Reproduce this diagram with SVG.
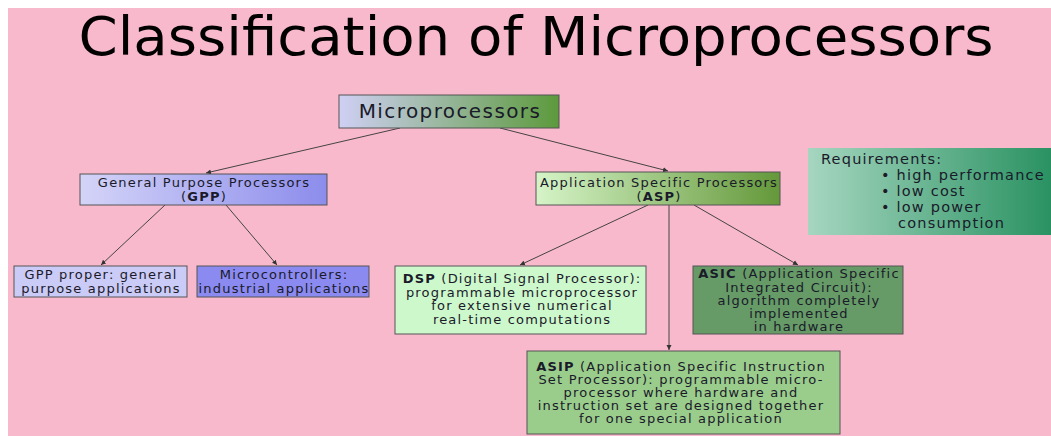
<svg xmlns="http://www.w3.org/2000/svg" width="1051" height="436" viewBox="0 0 1051 436">
<defs>
<linearGradient id="gMicro" x1="0" y1="0" x2="1" y2="0"><stop offset="0" stop-color="#cfd0f4"/><stop offset="1" stop-color="#5c9a3c"/></linearGradient>
<linearGradient id="gGPP" x1="0" y1="0" x2="1" y2="0"><stop offset="0" stop-color="#d4d4f8"/><stop offset="1" stop-color="#8c8cec"/></linearGradient>
<linearGradient id="gASP" x1="0" y1="0" x2="1" y2="0"><stop offset="0" stop-color="#d6f4c8"/><stop offset="1" stop-color="#64983a"/></linearGradient>
<linearGradient id="gReq" x1="0" y1="0" x2="1" y2="0"><stop offset="0" stop-color="#a6d6c0"/><stop offset="1" stop-color="#2a9262"/></linearGradient>
<marker id="arr" markerWidth="6" markerHeight="6" refX="5" refY="3" orient="auto" markerUnits="userSpaceOnUse"><path d="M0,0.5 L5,3 L0,5.5 z" fill="#333"/></marker>
<style>
.box{stroke:#555;stroke-width:1}
.t{font-family:"DejaVu Sans",Verdana,sans-serif;font-size:13px;letter-spacing:1.2px;fill:#1a1a2a;text-anchor:middle}
.r{font-size:14.5px;letter-spacing:1.2px;text-anchor:start}
.b{font-weight:bold}
.c{stroke:#444;stroke-width:1;fill:none;marker-end:url(#arr)}
</style>
</defs>
<rect x="0" y="0" width="1051" height="436" fill="#ffffff"/>
<rect x="8" y="8" width="1043" height="428" fill="#f9b9cc"/>
<text x="536" y="55" font-family="'DejaVu Sans Condensed','DejaVu Sans',sans-serif" font-size="54" text-anchor="middle" textLength="915" lengthAdjust="spacingAndGlyphs" fill="#000">Classification of Microprocessors</text>

<g id="connectors">
<line class="c" x1="400" y1="128" x2="206" y2="173"/>
<line class="c" x1="500" y1="128" x2="668" y2="171"/>
<line class="c" x1="165" y1="205" x2="101" y2="265"/>
<line class="c" x1="226" y1="205" x2="277" y2="265"/>
<line class="c" x1="648" y1="205" x2="520" y2="265"/>
<line class="c" x1="669" y1="205" x2="669" y2="350"/>
<line class="c" x1="694" y1="205" x2="798" y2="265"/>
</g>

<g id="micro">
<rect class="box" x="339" y="95" width="220" height="33" fill="url(#gMicro)"/>
<text class="t" x="450" y="118" style="font-size:20px;letter-spacing:1.4px">Microprocessors</text>
</g>

<g id="gpp">
<rect class="box" x="80" y="174" width="247" height="31" fill="url(#gGPP)"/>
<text class="t" x="204" y="187">General Purpose Processors</text>
<text class="t" x="204" y="201">(<tspan class="b">GPP</tspan>)</text>
</g>

<g id="asp">
<rect class="box" x="536" y="172" width="244" height="33" fill="url(#gASP)"/>
<text class="t" x="659" y="187">Application Specific Processors</text>
<text class="t" x="659" y="201">(<tspan class="b">ASP</tspan>)</text>
</g>

<g id="requirements">
<rect x="808" y="148" width="243" height="87" fill="url(#gReq)"/>
<text class="t r" x="821" y="164">Requirements:</text>
<text class="t r" x="881" y="180">• high performance</text>
<text class="t r" x="881" y="196">• low cost</text>
<text class="t r" x="881" y="212">• low power</text>
<text class="t r" x="898" y="228">consumption</text>
</g>

<g id="gpp-proper">
<rect class="box" x="14" y="266" width="173" height="31" fill="#cbcbf7"/>
<text class="t" x="101" y="279">GPP proper: general</text>
<text class="t" x="101" y="293">purpose applications</text>
</g>

<g id="microcontrollers">
<rect class="box" x="197" y="266" width="172" height="31" fill="#8a8af0"/>
<text class="t" x="284" y="279">Microcontrollers:</text>
<text class="t" x="284" y="293">industrial applications</text>
</g>

<g id="dsp">
<rect class="box" x="395" y="266" width="251" height="68" fill="#cdf8cc"/>
<text class="t" x="522" y="283"><tspan class="b">DSP</tspan> (Digital Signal Processor):</text>
<text class="t" x="522" y="296.5">programmable microprocessor</text>
<text class="t" x="522" y="310">for extensive numerical</text>
<text class="t" x="522" y="323.5">real-time computations</text>
</g>

<g id="asic">
<rect class="box" x="693" y="266" width="210" height="68" fill="#669a66"/>
<text class="t" x="799" y="278"><tspan class="b">ASIC</tspan> (Application Specific</text>
<text class="t" x="799" y="291.5">Integrated Circuit):</text>
<text class="t" x="799" y="305">algorithm completely</text>
<text class="t" x="799" y="318">implemented</text>
<text class="t" x="799" y="331">in  hardware</text>
</g>

<g id="asip">
<rect class="box" x="527" y="351" width="313" height="83" fill="#9acd8c"/>
<text class="t" x="681" y="371"><tspan class="b">ASIP</tspan> (Application Specific Instruction</text>
<text class="t" x="681" y="384">Set Processor): programmable micro-</text>
<text class="t" x="681" y="397">processor where hardware and</text>
<text class="t" x="681" y="410">instruction set are designed together</text>
<text class="t" x="681" y="423">for one special application</text>
</g>
</svg>
